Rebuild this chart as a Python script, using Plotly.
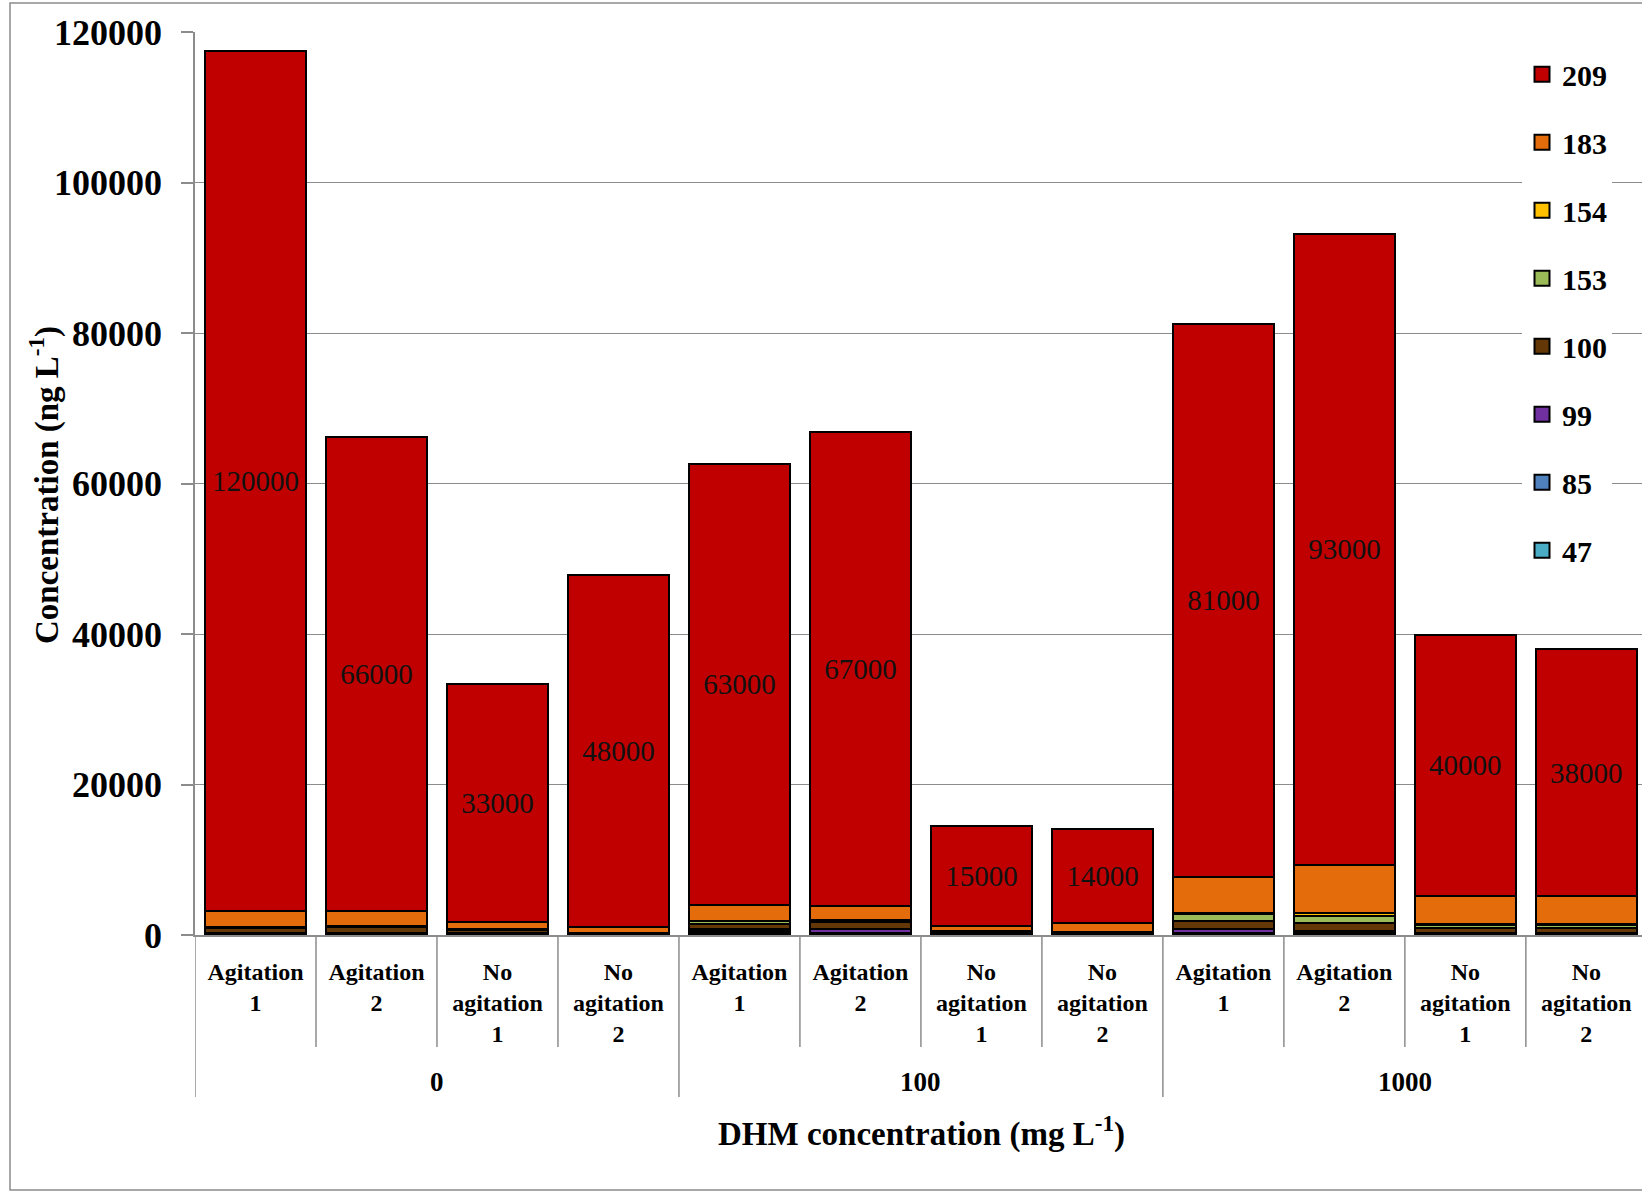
import plotly.graph_objects as go

# ---------------- data ----------------
groups = ["0", "100", "1000"]
conditions = ["Agitation<br>1", "Agitation<br>2", "No<br>agitation<br>1", "No<br>agitation<br>2"]
bar_ids = [f"{g}|{c}" for g in groups for c in conditions]
tick_text = [c for g in groups for c in conditions]

s47 = [70, 100, 60, 30, 300, 150, 40, 30, 100, 100, 90, 80]
s85 = [100, 100, 60, 20, 200, 150, 50, 40, 150, 130, 100, 100]
s99 = [100, 120, 90, 30, 300, 500, 60, 50, 500, 300, 100, 100]
s100 = [700, 700, 450, 180, 700, 900, 300, 280, 1060, 1000, 650, 650]
s153 = [100, 150, 80, 30, 300, 200, 40, 40, 1000, 1000, 450, 430]
s154 = [30, 30, 20, 10, 100, 100, 10, 10, 150, 350, 60, 60]
s183 = [2130, 2030, 930, 800, 2090, 1900, 660, 1100, 4800, 6400, 3770, 3760]
s209 = [114300, 62900, 31600, 46800, 58600, 63000, 13300, 12500, 73500, 83900, 34700, 32800]
total_labels = ["120000", "66000", "33000", "48000", "63000", "67000",
                "15000", "14000", "81000", "93000", "40000", "38000"]

series_names = ["47", "85", "99", "100", "153", "154", "183", "209"]
series_values = [s47, s85, s99, s100, s153, s154, s183, s209]
series_colors = ["#4BACC6", "#4F81BD", "#7030A0", "#633806", "#9BBB59", "#FFC000", "#E46C0A", "#C00000"]

y_ticks = [0, 20000, 40000, 60000, 80000, 100000, 120000]

# ---------------- layout geometry ----------------
W, H = 1642, 1192
ML, MR, MT, MB = 195, 0, 32, 257
PW = W - ML - MR
PH = H - MT - MB

def py(px_below_axis):
    return -px_below_axis / PH

def px_x(px):
    return (px - ML) / PW

FONT = "Liberation Serif"
GRID = "#8c8c8c"

fig = go.Figure()
n = len(series_names)
for k, (name, vals, col) in enumerate(zip(series_names, series_values, series_colors)):
    kw = {}
    if name == "209":
        kw = dict(text=total_labels, textposition="inside", insidetextanchor="middle",
                  textangle=0, constraintext="none",
                  insidetextfont=dict(family=FONT, size=29, color="#111111"))
    fig.add_trace(go.Bar(
        x=bar_ids, y=vals, name=name, legendgroup=name, showlegend=False,
        marker=dict(color=col, line=dict(color="#000000", width=2)),
        hoverinfo="skip", **kw))
# legend entries (square keys with black outline, like the reference)
for k, (name, col) in enumerate(zip(series_names, series_colors)):
    fig.add_trace(go.Scatter(
        x=[None], y=[None], mode="markers", name=name, legendgroup=name,
        legendrank=n - k, showlegend=True, hoverinfo="skip",
        marker=dict(symbol="square", size=15, color=col, line=dict(color="#000000", width=2))))

fig.update_layout(
    width=W, height=H,
    margin=dict(l=ML, r=MR, t=MT, b=MB, pad=0),
    barmode="stack", bargap=0.16,
    plot_bgcolor="white", paper_bgcolor="white",
    font=dict(family=FONT, color="black"),
    showlegend=True,
    legend=dict(x=px_x(1522), y=0.982, xanchor="left", yanchor="top",
                bgcolor="white", borderwidth=0, itemwidth=30,
                traceorder="grouped", tracegroupgap=26,
                font=dict(family=FONT, size=30, color="black", weight="bold")),
)

fig.update_xaxes(
    type="category", categoryorder="array", categoryarray=bar_ids,
    tickvals=bar_ids, ticktext=tick_text,
    range=[-0.5, 11.46],
    showline=True, linecolor=GRID, linewidth=1.5,
    showgrid=False, ticks="", ticklabelstandoff=14,
    tickfont=dict(family=FONT, size=24, color="black", weight="bold"),
)
fig.update_yaxes(
    range=[0, 120000], tickvals=y_ticks, tickformat="d",
    showline=True, linecolor=GRID, linewidth=1.5,
    showgrid=True, gridcolor=GRID, gridwidth=1,
    ticks="outside", ticklen=12, tickcolor=GRID, tickwidth=1.5,
    ticklabelstandoff=12, zeroline=False,
    tickfont=dict(family=FONT, size=36, color="black", weight="bold"),
)

shapes = []
# separators between inner categories
for i in range(13):
    is_group = (i % 4 == 0)
    shapes.append(dict(type="line", xref="x", yref="paper",
                       x0=i - 0.5, x1=i - 0.5, y0=0,
                       y1=py(162 if is_group else 112),
                       line=dict(color=GRID, width=1.5)))
# outer chart border
shapes.append(dict(type="rect", xref="paper", yref="paper",
                   x0=px_x(10), x1=px_x(1660), y0=py(1190 - 935), y1=1 + 29 / PH,
                   line=dict(color=GRID, width=1.5), fillcolor="rgba(0,0,0,0)", layer="below"))
fig.update_layout(shapes=shapes)

annotations = []
for gi, g in enumerate(groups):
    annotations.append(dict(text=g, xref="x", yref="paper", x=gi * 4 + 1.5, y=py(147),
                            xanchor="center", yanchor="middle", showarrow=False,
                            font=dict(family=FONT, size=27, color="black", weight="bold")))
annotations.append(dict(text="DHM concentration (mg L<sup>-1</sup>)", xref="paper", yref="paper",
                        x=px_x(921), y=py(196), xanchor="center", yanchor="middle", showarrow=False,
                        font=dict(family=FONT, size=33, color="black", weight="bold")))
annotations.append(dict(text="Concentration (ng L<sup>-1</sup>)", xref="paper", yref="paper",
                        x=px_x(44), y=(935 - 485) / PH, xanchor="center", yanchor="middle",
                        textangle=-90, showarrow=False,
                        font=dict(family=FONT, size=33, color="black", weight="bold")))
fig.update_layout(annotations=annotations)

fig.write_html("out.html", config={"displayModeBar": False},
               post_script="document.body.style.margin='0';document.body.style.overflow='hidden';")
